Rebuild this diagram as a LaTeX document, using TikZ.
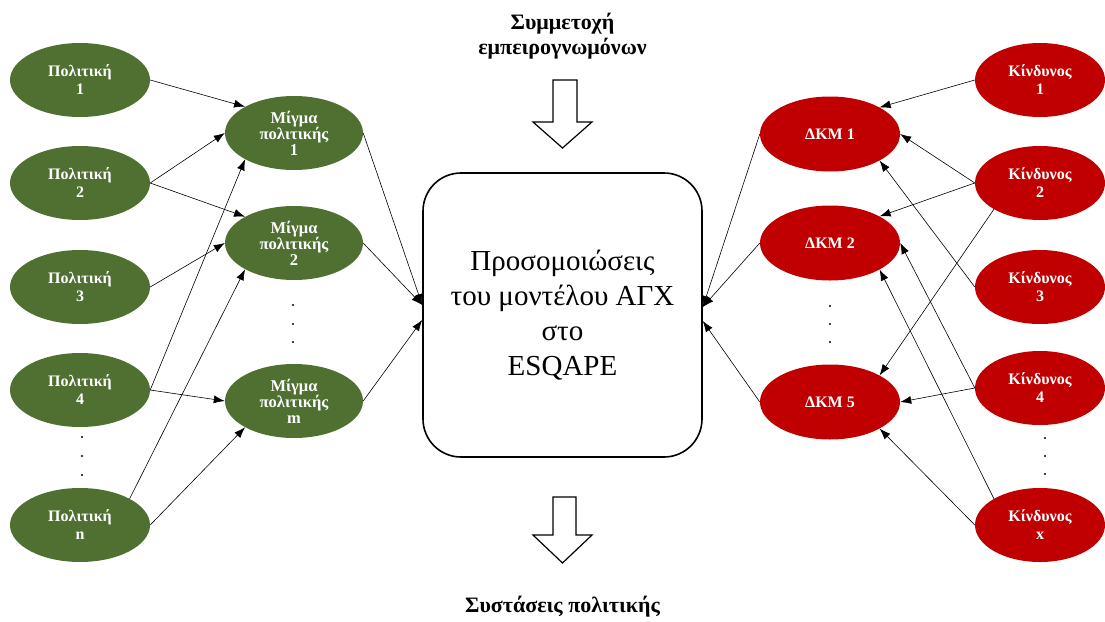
\documentclass[tikz,border=0pt]{standalone}
\usepackage{fontspec}
\setmainfont{Liberation Serif}
\usetikzlibrary{shapes.geometric,arrows.meta,calc}
\definecolor{policygreen}{RGB}{80,112,50}
\definecolor{riskred}{RGB}{192,0,0}
\begin{document}
\begin{tikzpicture}[x=1pt,y=-1pt,
  oval/.style={ellipse, text=white, inner sep=0pt, align=center,
    font=\bfseries\fontsize{16}{18}\selectfont},
  policy/.style={oval, fill=policygreen, minimum width=140pt, minimum height=74pt},
  mix/.style={oval, fill=policygreen, minimum width=138pt, minimum height=74pt,
    font=\bfseries\fontsize{16.5}{16}\selectfont},
  risk/.style={oval, fill=riskred, minimum width=130pt, minimum height=74pt},
  dkm/.style={oval, fill=riskred, minimum width=140pt, minimum height=75pt},
  link/.style={draw=black, line width=0.6pt, -{Latex[length=11pt,width=8pt]}},
  dot/.style={circle, fill=black, inner sep=0pt, minimum size=2.4pt},
  blockarrow/.style={draw=black, line width=1.2pt, fill=white, line join=miter},
  heading/.style={font=\bfseries\fontsize{22}{25}\selectfont, align=center}
]
\useasboundingbox (0,0) rectangle (1105,621);

% policies
\node[policy] (p1) at (80,80)  {Πολιτική\\1};
\node[policy] (p2) at (80,183) {Πολιτική\\2};
\node[policy] (p3) at (80,287) {Πολιτική\\3};
\node[policy] (p4) at (80,390) {Πολιτική\\4};
\node[policy] (pn) at (80,525) {Πολιτική\\n};

% policy mixes
\node[mix] (m1) at (294,133) {Μίγμα\\πολιτικής\\1};
\node[mix] (m2) at (294,243) {Μίγμα\\πολιτικής\\2};
\node[mix] (mm) at (294,401) {Μίγμα\\πολιτικής\\m};

% risks
\node[risk] (k1) at (1040,80)  {Κίνδυνος\\1};
\node[risk] (k2) at (1040,183) {Κίνδυνος\\2};
\node[risk] (k3) at (1040,287) {Κίνδυνος\\3};
\node[risk] (k4) at (1040,388) {Κίνδυνος\\4};
\node[risk] (kx) at (1040,525) {Κίνδυνος\\x};

% ΔΚΜ nodes
\node[dkm] (d1) at (830,134) {ΔΚΜ 1};
\node[dkm] (d2) at (830,243) {ΔΚΜ 2};
\node[dkm] (d5) at (830,402) {ΔΚΜ 5};

% simulation box
\node[draw=black, line width=1.6pt, rounded corners=38pt, minimum width=279pt,
  minimum height=284pt, align=center, font=\fontsize{29}{35}\selectfont]
  (sim) at (562.5,315) {Προσομοιώσεις\\του μοντέλου ΑΓΧ\\στο\\ESQAPE};

% headings
\node[heading] (expert) at (562.5,36) {Συμμετοχή\\εμπειρογνωμόνων};
\node[heading, anchor=base] (advice) at (562.5,612) {Συστάσεις πολιτικής};

% block arrows
\draw[blockarrow] (553,80) -- (577,80) -- (577,122) -- (592,122) -- (562.5,148)
  -- (533,122) -- (553,122) -- cycle;
\draw[blockarrow] (553,497) -- (576,497) -- (576,535) -- (592,535) -- (562.5,563)
  -- (533,535) -- (553,535) -- cycle;

% ellipsis dots
\foreach \n/\x/\y in {la/82/437, lb/82/456, lc/82/475,
                      ma/293/305, mb/293/324, mc/293/342,
                      da/830/306, db/830/324, dc/830/342,
                      ka/1045/438, kb/1045/456, kc/1045/474}
  \node[dot] (dot\n) at (\x,\y) {};

% inputs of the simulation box
\coordinate (inL)    at ([yshift=10pt]sim.west);
\coordinate (inLlow) at ([yshift=-5pt]sim.west);
\coordinate (inR)    at ([yshift=8pt]sim.east);
\coordinate (inRlow) at ([yshift=-6pt]sim.east);

% policies to mixes
\draw[link] (p1.east) -- (m1.north west);
\draw[link] (p2.east) -- (m1.west);
\draw[link] (p2.east) -- (m2.north west);
\draw[link] (p3.east) -- (m2.west);
\draw[link] (p4.east) -- (m1.south west);
\draw[link] (p4.east) -- (mm.west);
\draw[link] (pn.north east) -- (m2.south west);
\draw[link] (pn.east) -- (mm.south west);

% mixes to box
\draw[link] (m1.east) -- (inL);
\draw[link] (m2.east) -- (inL);
\draw[link] (mm.east) -- (inLlow);

% risks to ΔΚΜ
\draw[link] (k1.west) -- (d1.north east);
\draw[link] (k2.west) -- (d1.east);
\draw[link] (k2.west) -- (d2.north east);
\draw[link] (k2.south west) -- (d5.north east);
\draw[link] (k3.west) -- (d1.south east);
\draw[link] (k4.west) -- (d2.east);
\draw[link] (k4.west) -- (d5.east);
\draw[link] (kx.north west) -- (d2.south east);
\draw[link] (kx.west) -- (d5.south east);

% ΔΚΜ to box
\draw[link] (d1.west) -- (inR);
\draw[link] (d2.west) -- (inR);
\draw[link] (d5.west) -- (inRlow);
\end{tikzpicture}
\end{document}
